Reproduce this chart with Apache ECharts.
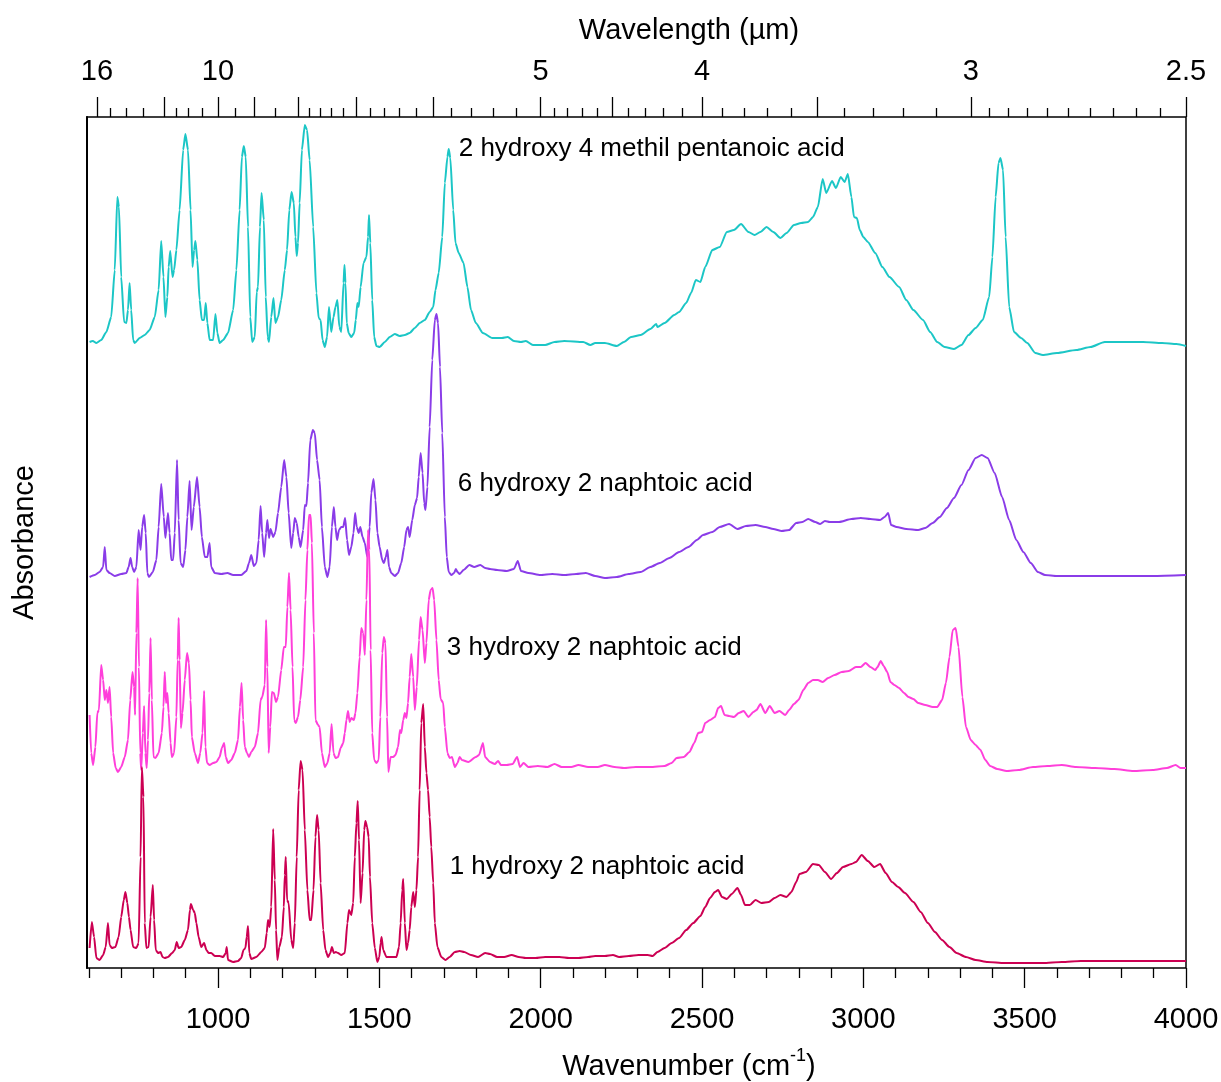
<!DOCTYPE html>
<html><head><meta charset="utf-8">
<script src="https://cdn.jsdelivr.net/npm/echarts@6/dist/echarts.min.js"></script>
<style>html,body{margin:0;padding:0;background:#fff}#c{width:1221px;height:1082px}</style>
</head><body><div id="c"></div>
<script>
// ---------- data (wavenumber cm-1, absorbance offset-stacked, arbitrary units) ----------
const seriesNames = ['2 hydroxy 4 methil pentanoic acid', '6 hydroxy 2 naphtoic acid', '3 hydroxy 2 naphtoic acid', '1 hydroxy 2 naphtoic acid'];

const hydroxyMethylPentanoic = [
[602,6.26],[612,6.27],[623,6.25],[638,6.28],[654,6.36],[669,6.51],[680,6.98],[688,7.71],[693,7.61],[700,6.91],[709,6.46],[716,6.45],[721,6.58],[726,6.85],[731,6.58],[737,6.28],[742,6.25],[757,6.30],[773,6.33],[788,6.38],[804,6.51],[816,6.78],[824,7.27],[831,6.91],[837,6.51],[843,6.71],[847,7.01],[852,7.17],[859,6.91],[864,6.98],[871,7.18],[881,7.58],[892,8.18],[899,8.34],[907,8.18],[915,7.58],[921,7.01],[926,7.18],[930,7.27],[936,7.08],[943,6.68],[950,6.48],[957,6.48],[962,6.65],[967,6.45],[974,6.28],[985,6.28],[992,6.54],[998,6.35],[1005,6.25],[1016,6.28],[1031,6.35],[1047,6.58],[1057,6.98],[1067,7.58],[1074,8.11],[1080,8.22],[1086,8.11],[1093,7.41],[1100,6.51],[1106,6.26],[1114,6.31],[1120,6.76],[1124,6.81],[1130,7.41],[1135,7.75],[1142,7.48],[1148,6.71],[1154,6.31],[1158,6.26],[1165,6.51],[1172,6.70],[1178,6.45],[1186,6.51],[1196,6.68],[1207,6.98],[1214,7.18],[1221,7.58],[1228,7.76],[1235,7.65],[1240,7.31],[1244,7.12],[1248,7.25],[1253,7.65],[1260,8.18],[1269,8.43],[1276,8.38],[1284,8.08],[1295,7.41],[1305,6.75],[1312,6.50],[1318,6.48],[1324,6.28],[1331,6.21],[1338,6.31],[1344,6.61],[1351,6.36],[1358,6.51],[1364,6.61],[1370,6.68],[1376,6.41],[1382,6.36],[1389,6.85],[1392,7.03],[1395,6.85],[1399,6.45],[1405,6.35],[1413,6.31],[1422,6.35],[1427,6.48],[1432,6.65],[1436,6.61],[1442,6.81],[1451,7.05],[1460,7.11],[1465,7.31],[1468,7.53],[1472,7.25],[1478,6.68],[1484,6.31],[1491,6.22],[1501,6.21],[1517,6.26],[1532,6.31],[1548,6.34],[1563,6.32],[1579,6.33],[1594,6.35],[1610,6.40],[1625,6.45],[1641,6.48],[1656,6.56],[1667,6.61],[1674,6.78],[1684,6.95],[1695,7.31],[1703,7.85],[1711,8.11],[1715,8.19],[1720,8.10],[1729,7.58],[1736,7.25],[1746,7.15],
[1761,7.05],[1773,6.81],[1784,6.58],[1799,6.45],[1821,6.35],[1850,6.30],[1880,6.30],[1898,6.31],[1917,6.27],[1939,6.26],[1954,6.27],[1976,6.23],[2014,6.23],[2043,6.26],[2073,6.27],[2132,6.26],[2154,6.23],[2169,6.25],[2199,6.25],[2236,6.22],[2258,6.26],[2280,6.31],[2310,6.33],[2340,6.39],[2358,6.44],[2362,6.41],[2384,6.45],[2414,6.53],[2429,6.56],[2451,6.65],[2466,6.75],[2481,6.88],[2495,6.86],[2510,7.01],[2532,7.18],[2555,7.21],[2577,7.36],[2599,7.38],[2621,7.44],[2644,7.36],[2663,7.33],[2681,7.36],[2700,7.41],[2721,7.36],[2743,7.30],[2762,7.35],[2785,7.43],[2807,7.45],[2829,7.46],[2844,7.51],[2859,7.61],[2874,7.89],[2885,7.75],[2903,7.87],[2915,7.80],[2930,7.91],[2942,7.86],[2952,7.94],[2963,7.71],[2971,7.51],[2980,7.50],[2989,7.38],[3000,7.31],[3014,7.26],[3037,7.15],[3059,7.01],[3081,6.91],[3111,6.81],[3133,6.68],[3155,6.58],[3185,6.48],[3207,6.36],[3229,6.26],[3252,6.21],[3281,6.19],[3304,6.23],[3326,6.33],[3348,6.40],[3370,6.48],[3390,6.71],[3400,7.11],[3410,7.71],[3419,8.05],[3425,8.10],[3433,7.98],[3441,7.31],[3452,6.61],[3467,6.36],[3489,6.30],[3508,6.25],[3533,6.15],[3556,6.13],[3600,6.15],[3660,6.18],[3704,6.21],[3748,6.26],[3808,6.26],[3867,6.26],[3926,6.25],[3971,6.24],[4000,6.22]
];

const hydroxy6Naphtoic = [
[602,3.91],[618,3.93],[633,3.96],[644,4.01],[649,4.21],[654,3.98],[664,3.95],[680,3.92],[700,3.94],[716,3.95],[723,4.01],[729,4.10],[734,4.01],[740,3.96],[747,4.01],[754,4.38],[760,4.18],[765,4.41],[771,4.53],[776,4.35],[781,3.95],[786,3.91],[798,3.96],[809,4.08],[816,4.41],[824,4.84],[832,4.51],[837,4.30],[845,4.55],[850,4.35],[855,4.08],[861,4.08],[866,4.35],[873,5.08],[878,4.48],[884,4.05],[892,4.01],[899,4.18],[905,4.51],[912,4.87],[918,4.38],[925,4.61],[935,4.91],[943,4.61],[950,4.31],[959,4.11],[967,4.11],[974,4.25],[979,4.01],[990,3.95],[1010,3.94],[1029,3.95],[1047,3.93],[1072,3.93],[1088,3.97],[1096,4.05],[1103,4.13],[1111,4.02],[1119,4.05],[1126,4.28],[1132,4.62],[1137,4.35],[1143,4.11],[1149,4.35],[1153,4.48],[1158,4.30],[1163,4.39],[1171,4.31],[1178,4.36],[1186,4.55],[1196,4.81],[1205,5.08],[1212,4.91],[1219,4.55],[1227,4.20],[1233,4.35],[1238,4.50],[1244,4.45],[1250,4.31],[1256,4.21],[1264,4.38],[1269,4.63],[1274,4.62],[1279,4.85],[1286,5.28],[1294,5.38],[1300,5.35],[1307,5.08],[1315,4.88],[1322,4.41],[1331,4.01],[1339,3.91],[1346,4.01],[1353,4.41],[1359,4.61],[1364,4.41],[1369,4.28],[1375,4.38],[1382,4.41],[1388,4.41],[1394,4.50],[1400,4.28],[1406,4.13],[1413,4.21],[1420,4.35],[1425,4.55],[1430,4.41],[1436,4.35],[1441,4.41],[1448,4.31],[1455,4.25],[1463,4.11],[1470,4.41],[1475,4.75],[1482,4.89],[1488,4.68],[1494,4.35],[1501,4.21],[1509,4.08],[1514,4.05],[1520,4.11],[1525,4.18],[1530,4.01],[1537,3.95],[1548,3.92],[1558,3.95],[1568,4.05],[1577,4.21],[1584,4.38],[1589,4.41],[1594,4.31],[1602,4.48],[1610,4.63],[1617,4.70],[1622,4.91],[1628,5.15],[1634,4.95],[1639,4.65],[1643,4.58],[1649,4.81],[1656,5.41],[1664,6.08],[1672,6.48],[1677,6.54],[1682,6.45],[1688,6.01],[1695,5.35],[1703,4.51],[1709,4.11],[1715,3.96],[1723,3.93],[1732,3.95],[1737,3.99],[1742,3.96],[1749,3.94],
[1761,3.98],[1779,4.03],[1794,4.01],[1813,4.03],[1828,4.00],[1843,3.99],[1865,3.98],[1895,3.97],[1917,3.99],[1929,4.07],[1939,3.97],[1962,3.95],[1999,3.93],[2036,3.94],[2073,3.93],[2110,3.94],[2140,3.95],[2169,3.92],[2199,3.90],[2236,3.91],[2273,3.94],[2310,3.96],[2340,4.01],[2369,4.05],[2399,4.10],[2429,4.16],[2458,4.21],[2484,4.28],[2503,4.33],[2532,4.36],[2555,4.41],[2584,4.44],[2610,4.39],[2636,4.42],[2666,4.43],[2696,4.41],[2721,4.39],[2747,4.37],[2770,4.38],[2792,4.45],[2811,4.46],[2829,4.49],[2851,4.46],[2866,4.44],[2881,4.47],[2896,4.46],[2925,4.46],[2963,4.49],[2992,4.50],[3022,4.49],[3052,4.48],[3066,4.51],[3077,4.55],[3086,4.43],[3103,4.41],[3133,4.39],[3170,4.38],[3192,4.40],[3215,4.45],[3237,4.51],[3259,4.60],[3281,4.70],[3304,4.83],[3326,4.98],[3348,5.10],[3367,5.13],[3385,5.10],[3407,4.95],[3430,4.71],[3452,4.48],[3474,4.28],[3496,4.16],[3519,4.05],[3541,3.96],[3563,3.93],[3600,3.92],[3689,3.92],[3793,3.92],[3897,3.92],[4000,3.93]
];

const hydroxy3Naphtoic = [
[602,2.53],[607,2.15],[613,2.03],[620,2.21],[626,2.55],[631,2.58],[638,3.03],[644,2.88],[649,2.68],[654,2.78],[659,2.65],[664,2.81],[669,2.51],[675,2.15],[683,2.00],[690,1.96],[700,2.01],[711,2.11],[721,2.28],[728,2.68],[735,2.96],[740,2.81],[743,2.53],[747,3.35],[751,3.90],[755,3.01],[759,2.15],[762,1.98],[767,2.35],[771,2.62],[775,2.15],[779,2.00],[783,2.28],[787,2.75],[791,3.30],[795,2.68],[800,2.11],[806,2.10],[816,2.15],[826,2.35],[831,2.61],[835,2.96],[839,2.65],[843,2.75],[847,2.55],[853,2.25],[857,2.11],[864,2.15],[871,2.51],[875,3.08],[878,3.50],[881,3.08],[885,2.40],[890,2.55],[897,2.88],[904,3.15],[910,3.05],[915,2.68],[919,2.31],[928,2.15],[938,2.05],[945,2.15],[952,2.35],[957,2.77],[961,2.21],[966,2.05],[974,2.03],[985,2.05],[995,2.06],[1005,2.11],[1012,2.20],[1019,2.25],[1024,2.11],[1031,2.05],[1041,2.08],[1052,2.15],[1062,2.28],[1068,2.61],[1073,2.85],[1078,2.48],[1083,2.21],[1090,2.15],[1096,2.11],[1103,2.16],[1114,2.21],[1124,2.35],[1132,2.68],[1137,2.71],[1145,2.83],[1149,3.48],[1153,3.01],[1157,2.15],[1162,2.41],[1167,2.76],[1173,2.75],[1180,2.66],[1186,2.71],[1196,2.98],[1204,3.21],[1210,3.21],[1215,3.61],[1220,3.95],[1225,3.58],[1231,3.01],[1236,2.48],[1241,2.45],[1248,2.51],[1255,2.68],[1264,3.01],[1271,3.68],[1277,4.18],[1282,4.53],[1287,4.53],[1291,4.25],[1297,3.35],[1302,2.48],[1310,2.43],[1315,2.41],[1322,2.15],[1331,2.01],[1339,2.05],[1346,2.15],[1352,2.44],[1358,2.15],[1364,2.10],[1372,2.11],[1380,2.20],[1388,2.25],[1393,2.35],[1398,2.48],[1403,2.57],[1408,2.46],[1413,2.50],[1421,2.48],[1426,2.55],[1432,2.75],[1439,3.11],[1444,3.40],[1450,3.35],[1455,3.13],[1460,3.68],[1465,4.38],[1469,4.18],[1473,3.18],[1478,2.35],[1484,2.08],[1491,2.05],[1498,2.08],[1503,2.51],[1509,3.15],[1514,3.31],[1519,3.25],[1524,2.51],[1528,1.96],[1535,2.11],[1543,2.11],[1550,2.13],[1558,2.21],[1564,2.38],[1568,2.35],[1574,2.48],[1579,2.55],[1584,2.50],[1589,2.65],[1594,2.91],[1599,3.14],[1605,2.91],[1610,2.58],[1616,2.81],[1623,3.28],[1628,3.51],[1634,3.38],[1641,3.05],[1646,3.25],[1653,3.68],[1659,3.78],[1665,3.80],[1670,3.68],[1677,3.28],[1684,2.88],[1690,2.69],[1698,2.65],[1703,2.41],[1711,2.15],[1718,2.10],[1725,2.11],[1734,2.01],[1742,2.05],[1749,2.11],[1756,2.08],
[1776,2.06],[1799,2.11],[1809,2.13],[1821,2.25],[1828,2.11],[1843,2.06],[1858,2.04],[1868,2.07],[1877,2.03],[1895,2.03],[1913,2.04],[1927,2.11],[1936,2.01],[1947,2.05],[1962,2.01],[1991,2.02],[2021,2.01],[2043,2.04],[2065,2.01],[2095,2.01],[2117,2.03],[2147,2.01],[2177,2.01],[2199,2.03],[2229,2.01],[2258,2.00],[2295,2.01],[2340,2.01],[2384,2.02],[2406,2.05],[2421,2.10],[2444,2.11],[2461,2.16],[2476,2.25],[2488,2.35],[2500,2.36],[2510,2.45],[2525,2.48],[2540,2.51],[2550,2.60],[2559,2.62],[2570,2.53],[2584,2.52],[2599,2.51],[2614,2.55],[2629,2.57],[2644,2.51],[2659,2.56],[2669,2.58],[2681,2.64],[2696,2.55],[2710,2.62],[2725,2.55],[2740,2.57],[2758,2.53],[2770,2.58],[2785,2.64],[2799,2.68],[2814,2.78],[2829,2.85],[2844,2.88],[2859,2.88],[2874,2.86],[2891,2.90],[2911,2.93],[2933,2.96],[2955,2.97],[2977,3.01],[2992,3.01],[3007,3.05],[3022,3.01],[3037,2.98],[3044,3.01],[3054,3.07],[3063,3.02],[3074,2.96],[3084,2.86],[3096,2.83],[3111,2.80],[3126,2.75],[3140,2.71],[3155,2.69],[3170,2.65],[3192,2.63],[3215,2.61],[3229,2.61],[3244,2.68],[3256,2.85],[3267,3.11],[3277,3.38],[3286,3.40],[3295,3.21],[3307,2.71],[3318,2.41],[3333,2.28],[3348,2.23],[3363,2.18],[3378,2.08],[3393,2.02],[3415,1.99],[3444,1.97],[3481,1.98],[3526,2.01],[3570,2.02],[3615,2.03],[3659,2.01],[3719,2.00],[3778,1.99],[3837,1.97],[3897,1.98],[3941,2.00],[3968,2.03],[3983,2.00],[4000,2.00]
];

const hydroxy1Naphtoic = [
[602,0.20],[609,0.46],[616,0.31],[623,0.10],[633,0.08],[644,0.13],[652,0.21],[659,0.45],[664,0.23],[671,0.20],[682,0.21],[692,0.31],[700,0.51],[708,0.68],[713,0.76],[719,0.65],[724,0.51],[729,0.38],[737,0.21],[747,0.20],[754,0.25],[760,1.11],[764,2.01],[769,1.71],[773,0.45],[778,0.20],[785,0.21],[791,0.51],[798,0.83],[802,0.48],[807,0.18],[814,0.15],[822,0.16],[828,0.11],[835,0.10],[845,0.11],[858,0.15],[866,0.18],[872,0.26],[878,0.20],[886,0.21],[897,0.28],[907,0.38],[913,0.58],[916,0.64],[923,0.58],[928,0.55],[933,0.45],[940,0.31],[948,0.21],[957,0.25],[964,0.18],[971,0.15],[979,0.15],[990,0.12],[1005,0.12],[1016,0.11],[1024,0.15],[1027,0.21],[1031,0.08],[1047,0.06],[1062,0.07],[1072,0.10],[1079,0.18],[1085,0.20],[1089,0.31],[1093,0.42],[1097,0.15],[1103,0.09],[1119,0.11],[1134,0.16],[1145,0.20],[1151,0.35],[1155,0.48],[1160,0.41],[1165,0.61],[1171,1.39],[1176,0.88],[1180,0.38],[1184,0.08],[1190,0.21],[1198,0.31],[1204,0.61],[1207,0.93],[1210,1.11],[1214,0.68],[1219,0.65],[1227,0.28],[1233,0.20],[1238,0.45],[1244,1.11],[1250,1.78],[1256,2.07],[1262,1.98],[1269,1.38],[1277,0.78],[1284,0.48],[1289,0.48],[1296,0.78],[1302,1.31],[1307,1.53],[1312,1.38],[1318,0.85],[1326,0.38],[1333,0.18],[1341,0.11],[1348,0.15],[1353,0.21],[1359,0.15],[1365,0.16],[1372,0.15],[1382,0.13],[1393,0.15],[1401,0.45],[1406,0.58],[1413,0.53],[1419,0.65],[1424,1.11],[1429,1.45],[1433,1.67],[1437,1.28],[1442,0.65],[1448,0.95],[1453,1.38],[1457,1.47],[1462,1.41],[1467,1.31],[1471,0.91],[1478,0.45],[1486,0.20],[1494,0.06],[1500,0.11],[1504,0.25],[1507,0.31],[1512,0.18],[1522,0.11],[1537,0.11],[1553,0.11],[1561,0.21],[1566,0.45],[1571,0.78],[1574,0.89],[1579,0.45],[1584,0.18],[1589,0.25],[1594,0.38],[1599,0.61],[1605,0.76],[1610,0.61],[1615,0.78],[1620,1.11],[1625,1.78],[1630,2.45],[1636,2.64],[1641,2.21],[1646,1.95],[1651,1.78],[1656,1.51],[1661,1.21],[1667,0.85],[1672,0.45],[1680,0.21],[1692,0.11],[1705,0.08],[1718,0.11],[1734,0.16],[1749,0.17],[1763,0.16],
[1784,0.13],[1806,0.11],[1828,0.15],[1843,0.14],[1865,0.11],[1887,0.11],[1910,0.13],[1932,0.11],[1954,0.10],[1984,0.10],[2014,0.11],[2058,0.11],[2088,0.10],[2117,0.10],[2147,0.11],[2169,0.12],[2199,0.12],[2224,0.13],[2243,0.11],[2273,0.12],[2303,0.13],[2332,0.13],[2347,0.12],[2362,0.16],[2384,0.20],[2406,0.25],[2429,0.30],[2451,0.38],[2473,0.45],[2495,0.52],[2510,0.61],[2525,0.70],[2540,0.76],[2550,0.78],[2562,0.71],[2577,0.69],[2592,0.74],[2610,0.80],[2621,0.73],[2633,0.63],[2648,0.63],[2666,0.68],[2684,0.65],[2707,0.66],[2725,0.70],[2743,0.73],[2762,0.71],[2777,0.76],[2792,0.86],[2802,0.94],[2822,0.96],[2844,1.04],[2862,1.03],[2881,0.96],[2900,0.89],[2918,0.95],[2937,1.01],[2963,1.04],[2977,1.06],[2995,1.13],[3014,1.07],[3034,1.01],[3052,1.04],[3069,0.95],[3089,0.86],[3108,0.81],[3129,0.75],[3155,0.66],[3178,0.56],[3200,0.45],[3222,0.36],[3244,0.28],[3267,0.21],[3289,0.15],[3318,0.11],[3348,0.08],[3385,0.06],[3437,0.05],[3496,0.05],[3556,0.05],[3615,0.06],[3674,0.07],[3763,0.07],[3837,0.07],[3912,0.07],[4000,0.07]
];

// tick values
const wavenumberMajorTicks = [1000, 1500, 2000, 2500, 3000, 3500, 4000];
const wavenumberMinorTicks = [600,700,800,900,1100,1200,1300,1400,1600,1700,1800,1900,2100,2200,2300,2400,2600,2700,2800,2900,3100,3200,3300,3400,3600,3700,3800,3900];
const wavelengthMajorTicks = [16, 12, 10, 9, 8, 7, 6, 5, 4.5, 4, 3.5, 3, 2.5];
const wavelengthMinorTicks = [15,14,13,11.5,11,10.5,9.5,8.5,7.8,7.6,7.4,7.2,6.8,6.6,6.4,6.2,5.8,5.6,5.4,5.2,4.9,4.8,4.7,4.6,4.4,4.3,4.2,4.1,3.9,3.8,3.7,3.6,3.4,3.3,3.2,3.1,2.95,2.9,2.85,2.8,2.75,2.7,2.65,2.6,2.55];
const wavelengthLabels = [16, 10, 5, 4, 3, 2.5];

// ---------- chart ----------
const FONT = 'Liberation Sans, Arial, Helvetica, sans-serif';
const toWn = um => 1e4 / um;
const X_MIN = 594, X_MAX = 4000;
const colors = ['#1CC6C6', '#8A3CE8', '#FF3FDA', '#CC0052'];
const spectra = [hydroxyMethylPentanoic, hydroxy6Naphtoic, hydroxy3Naphtoic, hydroxy1Naphtoic];
const labelAnchors = [[1746, 8.19], [1743, 4.84], [1709, 3.20], [1718, 1.01]];

const tickStyle = { color: '#000', width: 1.3 };
function baseX(pos) {
  return { type: 'value', position: pos, min: X_MIN, max: X_MAX, axisLine: { show: false }, splitLine: { show: false } };
}

const option = {
  animation: false,
  backgroundColor: '#fff',
  grid: { left: 87, right: 35, top: 117, bottom: 114, show: true, borderColor: '#000', borderWidth: 1.5,
    backgroundColor: 'transparent', containLabel: false, outerBoundsMode: 'none' },
  xAxis: [
    Object.assign(baseX('bottom'), {
      axisTick: { show: true, customValues: wavenumberMajorTicks, length: 20, lineStyle: tickStyle },
      axisLabel: { show: true, customValues: wavenumberMajorTicks, margin: 37, fontSize: 29, color: '#000', fontFamily: FONT,
        formatter: v => String(Math.round(v)) },
      name: '{a|Wavenumber (cm}{b|-1}{a|)}', nameLocation: 'middle', nameGap: 79,
      nameTextStyle: { padding: [0, 0, 0, 105], rich: {
        a: { fontSize: 29, fontFamily: FONT, color: '#000', lineHeight: 40 },
        b: { fontSize: 18, fontFamily: FONT, color: '#000', verticalAlign: 'top', lineHeight: 18 } } }
    }),
    Object.assign(baseX('bottom'), {
      axisTick: { show: true, customValues: wavenumberMinorTicks, length: 10, lineStyle: tickStyle },
      axisLabel: { show: false }
    }),
    Object.assign(baseX('top'), {
      axisTick: { show: true, customValues: wavelengthMajorTicks.map(toWn), length: 20, lineStyle: tickStyle },
      axisLabel: { show: true, customValues: wavelengthLabels.map(toWn), margin: 31, fontSize: 29, color: '#000', fontFamily: FONT,
        formatter: v => String(parseFloat((1e4 / v).toFixed(2))) },
      name: 'Wavelength (µm)', nameLocation: 'middle', nameGap: 72,
      nameTextStyle: { fontSize: 29, fontFamily: FONT, color: '#000', padding: [0, 0, 0, 105] }
    }),
    Object.assign(baseX('top'), {
      axisTick: { show: true, customValues: wavelengthMinorTicks.map(toWn), length: 9, lineStyle: tickStyle },
      axisLabel: { show: false }
    })
  ],
  yAxis: {
    type: 'value', min: 0, max: 8.51,
    axisLine: { show: true, lineStyle: { color: '#000', width: 2 } },
    axisTick: { show: false }, axisLabel: { show: false }, splitLine: { show: false },
    name: 'Absorbance', nameLocation: 'middle', nameGap: 48,
    nameTextStyle: { fontSize: 29, fontFamily: FONT, color: '#000' }
  },
  series: spectra.map((d, i) => ({
    name: seriesNames[i], type: 'line', data: d, xAxisIndex: 0, yAxisIndex: 0,
    showSymbol: false, symbol: 'none', smooth: 0.2, smoothMonotone: 'x',
    lineStyle: { color: colors[i], width: 2 }, silent: true, z: 2 + i
  }))
};

const chart = echarts.init(document.getElementById('c'), null, { renderer: 'canvas' });
chart.setOption(option);
// curve-name annotations anchored to data coordinates
chart.setOption({
  graphic: seriesNames.map((n, i) => {
    const p = chart.convertToPixel({ xAxisIndex: 0, yAxisIndex: 0 }, labelAnchors[i]);
    return { type: 'text', x: p[0], y: p[1], z: 100, silent: true,
      style: { text: n, fill: '#000', font: '26px ' + FONT, textAlign: 'left', textVerticalAlign: 'middle' } };
  })
});
</script>
</body></html>
